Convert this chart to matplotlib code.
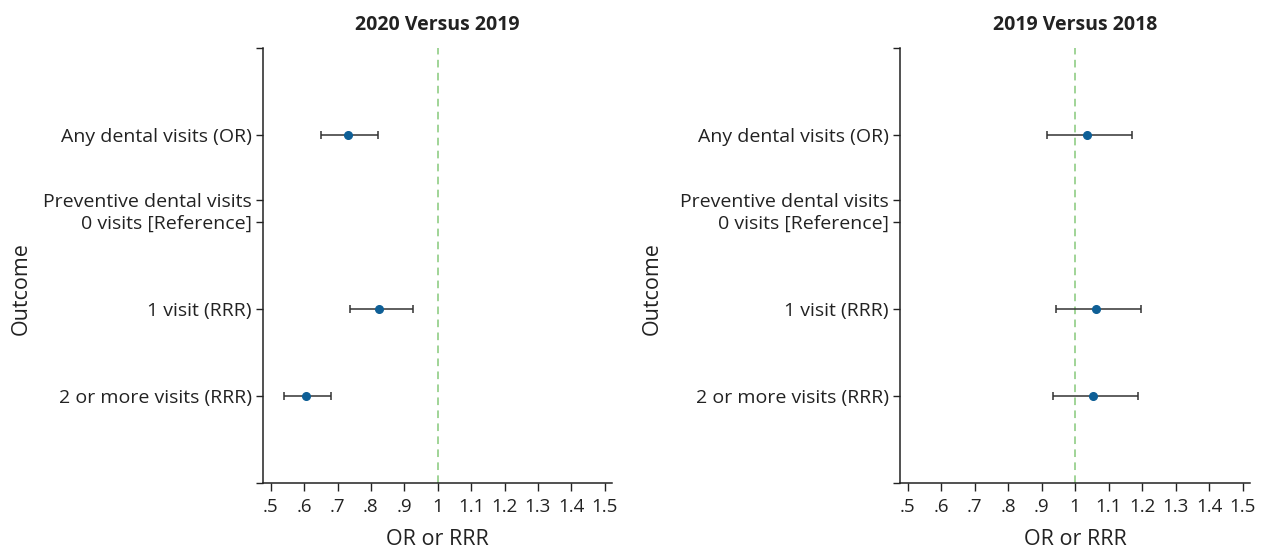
import matplotlib.pyplot as plt

# outcome labels and their row positions (0 = top of axis)
labels = ['Any dental visits (OR)', 'Preventive dental visits',
          '0 visits [Reference]', '1 visit (RRR)', '2 or more visits (RRR)']
label_pos = [1, 1.75, 2, 3, 4]
est_rows = [1, 3, 4]  # rows that have an estimate

# 2020 versus 2019
est_2020 = [0.731, 0.824, 0.605]
lo_2020 = [0.651, 0.737, 0.539]
hi_2020 = [0.822, 0.927, 0.681]

# 2019 versus 2018
est_2019 = [1.034, 1.061, 1.052]
lo_2019 = [0.915, 0.944, 0.934]
hi_2019 = [1.170, 1.197, 1.189]

xticks = [0.5, 0.6, 0.7, 0.8, 0.9, 1.0, 1.1, 1.2, 1.3, 1.4, 1.5]
xticklabels = ['.5', '.6', '.7', '.8', '.9', '1', '1.1', '1.2', '1.3', '1.4', '1.5']

plt.rcParams['font.family'] = ['Open Sans', 'DejaVu Sans']

fig = plt.figure(figsize=(12.69, 5.49), dpi=100)
panels = [
    ('2020 Versus 2019', est_2020, lo_2020, hi_2020, [0.2073, 0.1202, 0.275, 0.7924], -0.662),
    ('2019 Versus 2018', est_2019, lo_2019, hi_2019, [0.7092, 0.1202, 0.2758, 0.7924], -0.677),
]

for title, est, lo, hi, rect, ylab_x in panels:
    ax = fig.add_axes(rect)
    err = [[e - l for e, l in zip(est, lo)], [h - e for e, h in zip(est, hi)]]
    ax.axvline(1, color='#86c97a', lw=1.1, ls=(0, (5, 3.5)), zorder=1)
    ax.errorbar(est, est_rows, xerr=err, fmt='none', ecolor='#333333',
                elinewidth=1.1, capsize=3, capthick=1.1, zorder=2)
    ax.plot(est, est_rows, 'o', color='#0e5f96', ms=5.5, zorder=3)

    ax.set_xlim(0.477, 1.522)
    ax.set_ylim(5, 0)
    ax.set_xticks(xticks)
    ax.set_xticklabels(xticklabels, fontsize=13.5)
    ax.set_yticks([0] + label_pos + [5])
    ax.set_yticklabels([''] + labels + [''], fontsize=14)
    ax.tick_params(axis='x', length=6, width=1, pad=5, color='#222222', labelcolor='#222222')
    ax.tick_params(axis='y', length=5, width=1, pad=3, color='#222222', labelcolor='#222222')
    for side in ['top', 'right']:
        ax.spines[side].set_visible(False)
    for side in ['left', 'bottom']:
        ax.spines[side].set_linewidth(1.1)
        ax.spines[side].set_color('#222222')

    ax.set_title(title, fontsize=14, fontweight='bold', pad=13, color='#222222')
    ax.set_xlabel('OR or RRR', fontsize=15.5, labelpad=9, color='#222222')
    ax.set_ylabel('Outcome', fontsize=15.5, color='#222222')
    ax.yaxis.set_label_coords(ylab_x, 0.448)

fig.savefig('out.png', dpi=100)
